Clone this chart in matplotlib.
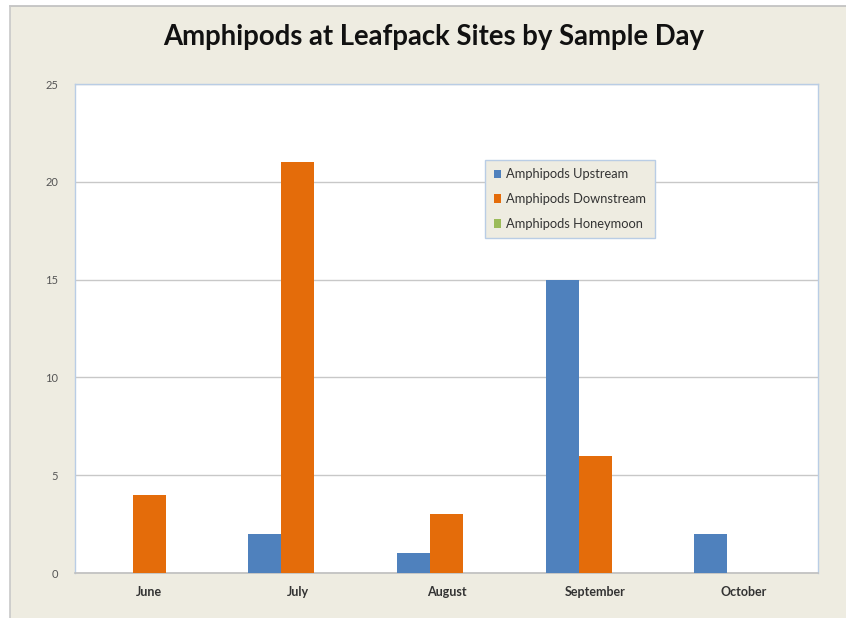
import matplotlib
matplotlib.use("Agg")
import matplotlib.pyplot as plt
from matplotlib.patches import Rectangle
from matplotlib.lines import Line2D
import numpy as np

months = ["June", "July", "August", "September", "October"]
upstream = [0, 2, 1, 15, 2]
downstream = [4, 21, 3, 6, 0]
honeymoon = [0, 0, 0, 0, 0]
series_names = ["Amphipods Upstream", "Amphipods Downstream", "Amphipods Honeymoon"]
colors = ["#4F81BD", "#E46C0A", "#9BBB59"]
yticks = [0, 5, 10, 15, 20, 25]

plt.rcParams['font.family'] = ['Lato', 'DejaVu Sans']

fig = plt.figure(figsize=(8.46, 6.18), dpi=100)
fig.patch.set_facecolor("white")
# beige chart area with gray top/left border
bg = Rectangle((10/846, 0), 1 - 10/846, 1 - 6/618, transform=fig.transFigure,
               facecolor="#EEECE1", edgecolor="none", zorder=-10)
fig.patches.append(bg)
fig.lines.append(Line2D([10/846, 1], [1 - 6/618, 1 - 6/618], transform=fig.transFigure,
                        color="#BFBFBF", linewidth=1.2))
fig.lines.append(Line2D([10/846, 10/846], [0, 1 - 6/618], transform=fig.transFigure,
                        color="#C8C8C8", linewidth=1.2))

ax = fig.add_axes([75/846, 1 - 573/618, (818-75)/846, (573-84)/618])
ax.set_facecolor("white")

x = np.arange(len(months))
w = 0.222
for i, (vals, name, c) in enumerate(zip([upstream, downstream, honeymoon], series_names, colors)):
    ax.bar(x + (i - 1) * w, vals, width=w, color=c, label=name, zorder=3)

ax.set_xlim(-0.5, len(months) - 0.5)
ax.set_ylim(0, 25)
ax.set_yticks(yticks)
ax.set_xticks(x)
ax.set_xticklabels(months, fontsize=9, fontweight="bold", color="#333333")
ax.tick_params(axis="y", labelsize=8, colors="#555555", length=0, pad=12)
ax.tick_params(axis="x", length=0, pad=9)
ax.yaxis.grid(True, color="#C8C8C8", linewidth=1)
ax.set_axisbelow(True)
for s in ["top", "right", "left"]:
    ax.spines[s].set_color("#B9CDE5")
    ax.spines[s].set_linewidth(1)
ax.spines["bottom"].set_color("#BFBFBF")
ax.spines["bottom"].set_linewidth(1.2)

leg = ax.legend(loc="upper left", bbox_to_anchor=(0.552, 0.845), fontsize=9.3,
                frameon=True, fancybox=False, facecolor="#EEECE1", edgecolor="#B9CDE5",
                handlelength=0.6, handleheight=0.6, handletextpad=0.4,
                labelspacing=1.0, borderpad=0.65, borderaxespad=0, framealpha=1)
for t in leg.get_texts():
    t.set_color("#333333")

fig.text(434/846, 1 - 37/618, "Amphipods at Leafpack Sites by Sample Day", ha="center", va="center",
         fontsize=19.8, fontweight="bold", color="#111111")

fig.savefig("out.png", dpi=100, facecolor=fig.get_facecolor())
